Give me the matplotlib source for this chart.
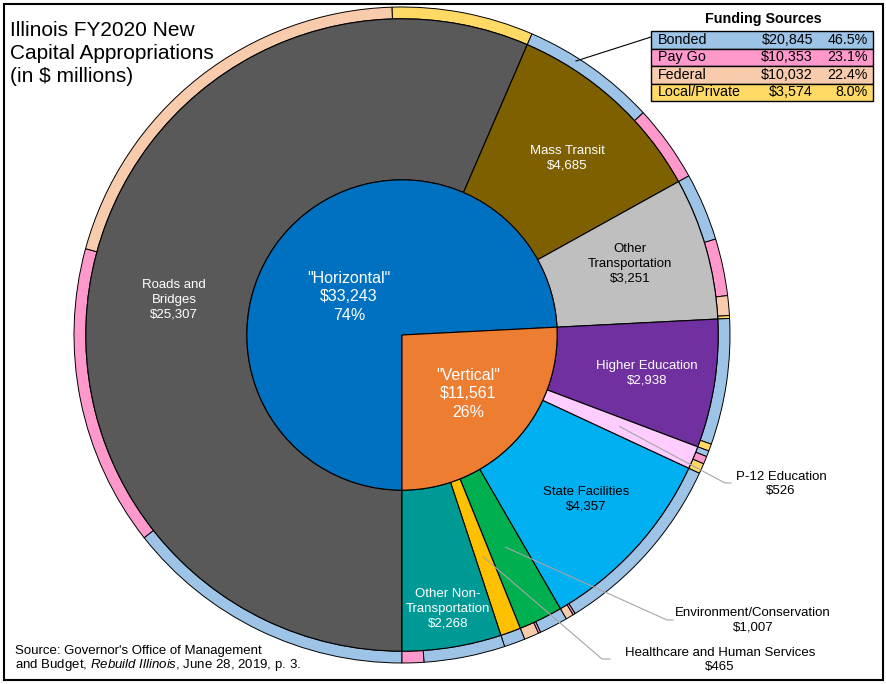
import matplotlib
matplotlib.use('Agg')
import matplotlib.pyplot as plt
from matplotlib.patches import Rectangle
import numpy as np

plt.rcParams['font.family'] = ['Liberation Sans', 'DejaVu Sans']
plt.rcParams['mathtext.fontset'] = 'custom'
plt.rcParams['mathtext.rm'] = 'Liberation Sans'
plt.rcParams['mathtext.it'] = 'Liberation Sans:italic'

# inner pie
groups = ['"Horizontal"', '"Vertical"']
group_amounts = [33243, 11561]
group_pct = ['74%', '26%']
group_colors = ['#0070C0', '#ED7D31']

# middle ring
categories = ['Roads and\nBridges', 'Mass Transit', 'Other\nTransportation',
              'Higher Education', 'P-12 Education', 'State Facilities',
              'Environment/Conservation', 'Healthcare and Human Services',
              'Other Non-\nTransportation']
cat_amounts = [25307, 4685, 3251, 2938, 526, 4357, 1007, 465, 2268]
cat_colors = ['#595959', '#7F6000', '#BFBFBF', '#7030A0', '#FFCCFF',
              '#00B0F0', '#00B050', '#FFC000', '#009A96']
cat_text = ['white', 'white', 'black', 'white', 'black', 'black', 'black', 'black', 'white']

# outer ring: funding split per category (bonded, pay go, federal, local)
source_names = ['Bonded', 'Pay Go', 'Federal', 'Local/Private']
source_totals = [20845, 10353, 10032, 3574]
source_pct = [46.5, 23.1, 22.4, 8.0]
source_colors = ['#9DC3E6', '#FF99CC', '#F8CBAD', '#FFD966']
split = [
    [6450, 6650, 9087, 3120],
    [2987, 1698, 0, 0],
    [1494, 1257, 436, 64],
    [2780, 0, 0, 158],
    [130, 170, 0, 226],
    [4133, 50, 174, 0],
    [630, 50, 327, 0],
    [465, 0, 0, 0],
    [1790, 478, 0, 0],
]

W, H = 887, 684
CX, CY, R = 402, 335, 328


def px(x, y):
    return ((x - CX) / R, (CY - y) / R)


def polar(theta, r):
    t = np.deg2rad(theta)
    return (r * np.cos(t), r * np.sin(t))


fig = plt.figure(figsize=(W / 100, H / 100), dpi=100)
ax = fig.add_axes([0, 0, 1, 1])

outer_vals, outer_cols = [], []
for row in split:
    for v, c in zip(row, source_colors):
        if v > 0:
            outer_vals.append(v)
            outer_cols.append(c)

common = dict(startangle=270, counterclock=False)
ax.pie(outer_vals, radius=1.0, colors=outer_cols,
       wedgeprops=dict(width=0.036, edgecolor='black', linewidth=0.7), **common)
cat_wedges, _ = ax.pie(cat_amounts, radius=0.964, colors=cat_colors,
                       wedgeprops=dict(width=0.491, edgecolor='black', linewidth=0.8), **common)
grp_wedges, _ = ax.pie(group_amounts, radius=0.473, colors=group_colors,
                       wedgeprops=dict(edgecolor='black', linewidth=0.8), **common)

ax.set_xlim(-CX / R, (W - CX) / R)
ax.set_ylim((CY - H) / R, CY / R)
ax.set_aspect('auto')
ax.axis('off')


def mid(w):
    return (w.theta1 + w.theta2) / 2


# inner labels (pixel centres)
grp_pos = [(349, 297), (468, 394)]
for g, a, p, pos in zip(groups, group_amounts, group_pct, grp_pos):
    x, y = px(*pos)
    ax.text(x, y, f'{g}\n${a:,}\n{p}', ha='center', va='center', color='white',
            fontsize=11.5, linespacing=1.3)

# category labels inside wedges (pixel centres)
inside_pos = {0: (174, 300), 1: (567, 158), 2: (630, 264), 3: (647, 373),
              5: (586, 499), 8: (448, 609)}
for i, pos in inside_pos.items():
    x, y = px(*pos)
    ax.text(x, y, f'{categories[i]}\n${cat_amounts[i]:,}', ha='center', va='center',
            color=cat_text[i], fontsize=9.5, linespacing=1.32)

# outside labels with leader lines
outside = {4: ((725, 483), (731, 483), (781, 484)),
           6: ((667, 620), (673, 620), (753, 620)),
           7: ((602, 659), (610, 659), (720, 660))}
for i, (elbow, end, txt) in outside.items():
    sx, sy = polar(mid(cat_wedges[i]), 0.72)
    ex, ey = px(*elbow)
    fx, fy = px(*end)
    ax.plot([sx, ex, fx], [sy, ey, fy], color='#A6A6A6', lw=0.8)
    tx, ty = px(*txt)
    ax.text(tx, ty, f'{categories[i]}\n${cat_amounts[i]:,}', ha='center', va='center',
            color='black', fontsize=9.5, linespacing=1.32)

# title and source
fig.text(10 / W, 1 - 21 / H, 'Illinois FY2020 New\nCapital Appropriations\n(in $ millions)',
         ha='left', va='top', fontsize=15, linespacing=1.26)
fig.text(15 / W, 1 - 659 / H,
         'Source: Governor\'s Office of Management\n'
         r'and Budget, $\it{Rebuild\ Illinois}$, June 28, 2019, p. 3.',
         ha='left', va='center', fontsize=9.5, linespacing=1.05)

# funding sources table
tab = fig.add_axes([651 / W, 1 - 101 / H, 222 / W, 70 / H])
tab.set_xlim(0, 222)
tab.set_ylim(70, 0)
tab.axis('off')
row_h = 70 / 4
for k, (n, t, p, c) in enumerate(zip(source_names, source_totals, source_pct, source_colors)):
    y0 = k * row_h
    tab.add_patch(Rectangle((0, y0), 222, row_h, facecolor=c, edgecolor='black', lw=1.0, clip_on=False))
    tab.text(7, y0 + row_h / 2, n, ha='left', va='center', fontsize=10.3)
    tab.text(162, y0 + row_h / 2, f'${t:,}', ha='right', va='center', fontsize=10.3)
    tab.text(217, y0 + row_h / 2, f'{p:.1f}%', ha='right', va='center', fontsize=10.3)
fig.text(763 / W, 1 - 19 / H, 'Funding Sources', ha='center', va='center',
         fontsize=10.3, fontweight='bold')

# leader from table to outer ring
x0, y0 = px(651, 37)
x1, y1 = px(576, 61)
ax.plot([x0, x1], [y0, y1], color='black', lw=0.8)

# outer border
fig.add_artist(Rectangle((4 / W, 4 / H), 879 / W, 676 / H, transform=fig.transFigure,
                         fill=False, edgecolor='black', lw=1.5))

fig.savefig('out.png', dpi=100)
